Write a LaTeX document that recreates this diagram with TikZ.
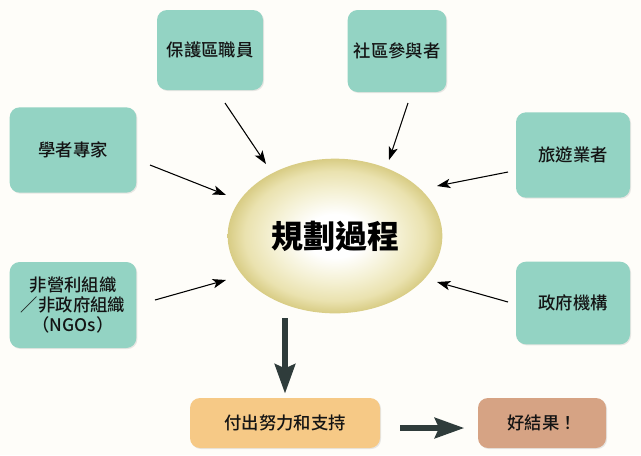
\documentclass[tikz,border=0pt]{standalone}
\usepackage{fontspec}
\newfontfamily\cjk{Noto Sans CJK TC Medium}
\newfontfamily\cjkbold{Noto Sans CJK TC Black}
\usetikzlibrary{arrows.meta,shadows,shapes.geometric}
\definecolor{tealbox}{HTML}{93D3C3}
\definecolor{orangebox}{HTML}{F6C986}
\definecolor{brownbox}{HTML}{D6A384}
\definecolor{darkarrow}{HTML}{2F3C3B}
\definecolor{bgpaper}{HTML}{FEFDF9}
\definecolor{txt}{HTML}{141414}
\pgfdeclareradialshading{ellshade}{\pgfpoint{0bp}{0bp}}{%
  color(0bp)=(white);
  color(7bp)=(white);
  color(15bp)=(rgb,255:red,244;green,240;blue,210);
  color(21bp)=(rgb,255:red,234;green,226;blue,175);
  color(25bp)=(rgb,255:red,216;green,204;blue,132);
  color(50bp)=(rgb,255:red,216;green,204;blue,132)}
\begin{document}
\begin{tikzpicture}[x=0.75pt,y=-0.75pt,
  boxbase/.style={rounded corners=7.5pt, inner sep=2pt, align=center, text=txt,
    font=\cjk\fontsize{13}{15}\selectfont,
    drop shadow={opacity=0.18, shadow xshift=0.8pt, shadow yshift=-0.8pt}},
  actor/.style={boxbase, fill=tealbox},
  thinarrow/.style={draw=black, line width=0.8pt, -{Stealth[length=10pt,width=7pt,inset=2.5pt]}},
  thickarrow/.style={draw=darkarrow, line width=5pt, -{Stealth[length=22pt,width=15pt,inset=3pt]}}
]
\fill[bgpaper] (0,0) rectangle (641,455);
\useasboundingbox (0,0) rectangle (641,455);

% actor boxes
\node[actor, minimum width=79.5pt, minimum height=60pt] (b1) at (210,50) {保護區職員};
\node[actor, minimum width=74pt, minimum height=61.5pt] (b2) at (397,51) {社區參與者};
\node[actor, minimum width=95pt, minimum height=64pt] (b3) at (73,150) {學者專家};
\node[actor, minimum width=85.5pt, minimum height=64pt] (b4) at (573,155) {旅遊業者};
\node[actor, minimum width=95pt, minimum height=64.5pt] (b5) at (73,305) {非營利組織\\／非政府組織\\（NGOs）};
\node[actor, minimum width=85.5pt, minimum height=62pt] (b6) at (573,303) {政府機構};

% central ellipse
\node[ellipse, minimum width=161pt, minimum height=116pt, inner sep=0pt,
  shading=ellshade,
  font=\cjkbold\fontsize{24}{28}\selectfont, text=black] (ell) at (335,236) {規劃過程};

% bottom boxes
\node[boxbase, fill=orangebox, minimum width=142.5pt, minimum height=37.5pt] (eff) at (285,423) {付出努力和支持};
\node[boxbase, fill=brownbox, minimum width=96pt, minimum height=37.5pt] (res) at (542,423) {好結果！};

% arrow end points
\coordinate (s1) at (225,103); \coordinate (e1) at (266,164);
\coordinate (s2) at (408,103); \coordinate (e2) at (389,160);
\coordinate (s3) at (150,165); \coordinate (e3) at (226,195);
\coordinate (s4) at (508,172); \coordinate (e4) at (437,186);
\coordinate (s5) at (155,300); \coordinate (e5) at (226,280);
\coordinate (s6) at (508,302); \coordinate (e6) at (437,282);

\draw[thinarrow] (s1) -- (e1);
\draw[thinarrow] (s2) -- (e2);
\draw[thinarrow] (s3) -- (e3);
\draw[thinarrow] (s4) -- (e4);
\draw[thinarrow] (s5) -- (e5);
\draw[thinarrow] (s6) -- (e6);

% thick arrows
\coordinate (v1) at (285,318);
\draw[thickarrow] (v1) -- ([yshift=3pt]eff.north);
\coordinate (h1) at (400,428);
\draw[thickarrow] (h1) -- ([xshift=-10pt,yshift=-3.75pt]res.west);
\end{tikzpicture}
\end{document}
